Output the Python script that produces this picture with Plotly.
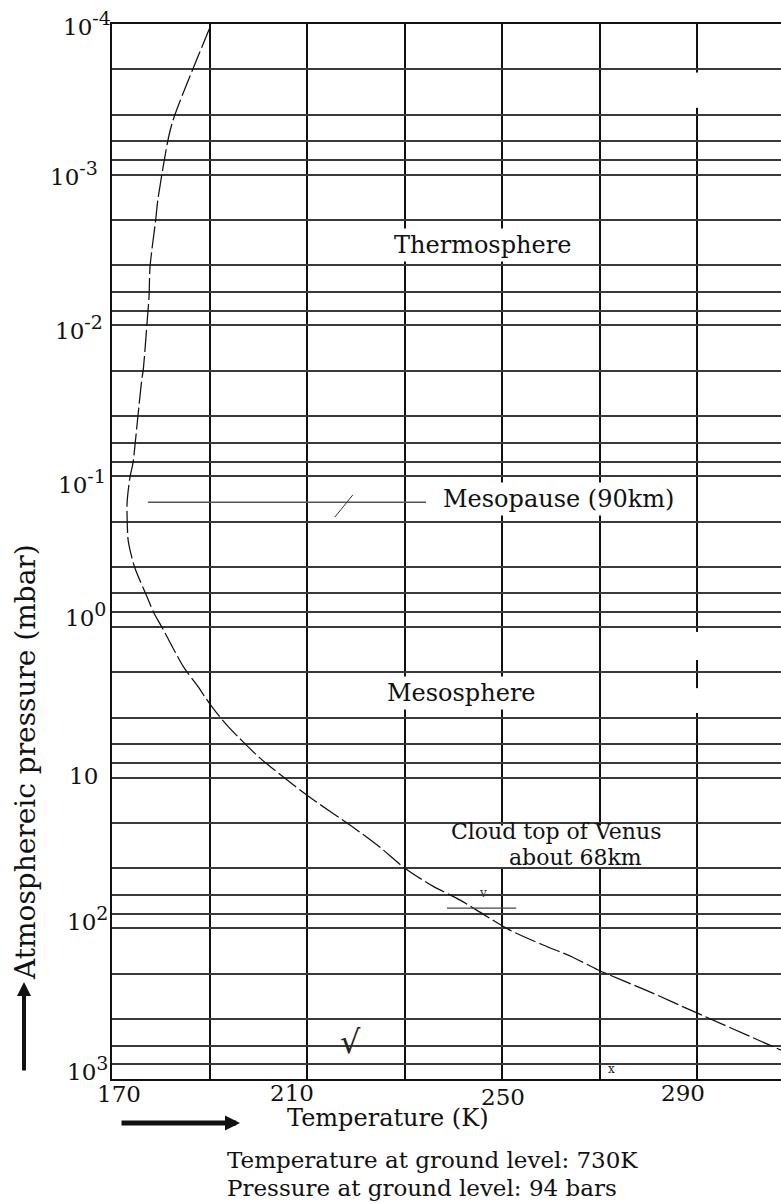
import plotly.graph_objects as go

# ---------------- data ----------------
temperature_K = [190.1, 182.9, 181.7, 179.4, 179.0, 177.8, 177.6, 177.2, 176.4, 176.1,
                 175.3, 174.7, 174.3, 173.7, 173.1, 173.1, 173.3, 173.7, 174.7, 177.2,
                 178.6, 180.2, 184.7, 187.4, 190.5, 193.6, 196.2, 200.3, 210.0, 220.0,
                 224.9, 230.0, 235.8, 241.4, 246.1, 251.6, 258.4, 264.4, 269.7, 280.4,
                 288.2, 307.2]
pressure_mbar = [1.05e-4, 4.0e-4, 5.45e-4, 1.47e-3, 1.94e-3, 4.1e-3, 6.4e-3, 9.5e-3, 1.98e-2, 2.3e-2,
                 4.05e-2, 6.3e-2, 8.2e-2, 0.101, 0.149, 0.19, 0.265, 0.31, 0.407, 0.634,
                 0.81, 1.0, 1.85, 2.43, 3.4, 4.5, 5.5, 7.4, 13.1, 22.0,
                 28.9, 39.8, 52.5, 65.0, 80.5, 102.8, 129.0, 155.0, 189.0, 265.0,
                 344.0, 643.0]

mesopause_T = [177.4, 234.4]
mesopause_p = [0.149, 0.149]
slash_T = [215.7, 219.4]
slash_p = [0.187, 0.133]
cloudtop_T = [238.7, 252.9]
cloudtop_p = [73.5, 73.5]

x_grid = [170, 190, 210, 230, 250, 270, 290]
x_tick_labels = ["170", "210", "250", "290"]
y_grid = [m * 10.0 ** e for e in range(-4, 3) for m in (1, 2, 4, 6, 8)] + [1000.0]
y_tick_base = ["10", "10", "10", "10", "10", "10", "10", "10"]
y_tick_exp = ["-4", "-3", "-2", "-1", "0", "", "2", "3"]

# ---------------- layout helpers ----------------
W, H = 781, 1203
L, R, T, B = 112, 0, 24, 124
PW, PH = W - L - R, H - T - B
FONT = "DejaVu Serif"


def px(xp):
    return (xp - L) / PW


def py(yp):
    return (H - B - yp) / PH


fig = go.Figure()

fig.add_trace(go.Scatter(x=temperature_K, y=pressure_mbar, mode="lines",
                         line=dict(color="#111", width=1.25, dash="22px,4px",
                                   shape="spline", smoothing=0.8),
                         hoverinfo="skip", showlegend=False))
fig.add_trace(go.Scatter(x=mesopause_T, y=mesopause_p, mode="lines",
                         line=dict(color="#555", width=1.5),
                         hoverinfo="skip", showlegend=False))
fig.add_trace(go.Scatter(x=slash_T, y=slash_p, mode="lines",
                         line=dict(color="#333", width=1),
                         hoverinfo="skip", showlegend=False))
fig.add_trace(go.Scatter(x=cloudtop_T, y=cloudtop_p, mode="lines",
                         line=dict(color="#444", width=1.3),
                         hoverinfo="skip", showlegend=False))

annotations = []

# y tick labels (10 with a superscript exponent)
ylab_pos = [(113, 23.5), (100, 173), (105, 327.5), (108, 481), (108, 614),
            (100, 776), (110, 918.5), (110, 1068.5)]
for base, ex, (xr, yc) in zip(y_tick_base, y_tick_exp, ylab_pos):
    txt = base if ex == "" else f"{base}<sup><span style='font-size:19px'>{ex}</span></sup>"
    annotations.append(dict(text=txt, xref="paper", yref="paper", x=px(xr), y=py(yc),
                            xanchor="right", yanchor="middle", showarrow=False,
                            font=dict(family=FONT, size=23, color="#111")))

# x tick labels
xlab_pos = [(119, 1094), (292, 1093), (503, 1097), (683, 1093)]
for txt, (xc, yc) in zip(x_tick_labels, xlab_pos):
    annotations.append(dict(text=txt, xref="paper", yref="paper", x=px(xc), y=py(yc),
                            xanchor="center", yanchor="middle", showarrow=False,
                            font=dict(family=FONT, size=23, color="#111")))

# in-plot labels (white background breaks the grid as in the original)
for txt, xc, yc in [("Thermosphere", 482, 245), ("Mesopause (90km)", 558, 499),
                    ("Mesosphere", 461, 693)]:
    annotations.append(dict(text=txt, xref="paper", yref="paper", x=px(xc), y=py(yc),
                            xanchor="center", yanchor="middle", showarrow=False,
                            bgcolor="white", borderpad=2,
                            font=dict(family=FONT, size=24, color="#111")))
for txt, xc, yc in [("Cloud top of Venus", 556, 831), ("about 68km", 575, 857)]:
    annotations.append(dict(text=txt, xref="paper", yref="paper", x=px(xc), y=py(yc),
                            xanchor="center", yanchor="middle", showarrow=False,
                            font=dict(family=FONT, size=22, color="#111")))

# small marks
annotations.append(dict(text="v", xref="paper", yref="paper", x=px(483), y=py(902),
                        showarrow=False, font=dict(family=FONT, size=12, color="#333")))
annotations.append(dict(text="√", xref="paper", yref="paper", x=px(350), y=py(1063),
                        showarrow=False, font=dict(family=FONT, size=32, color="#222")))
annotations.append(dict(text="x", xref="paper", yref="paper", x=px(617), y=py(1078),
                        showarrow=False, font=dict(family=FONT, size=12, color="#222")))

# axis titles
annotations.append(dict(text="Temperature (K)", xref="paper", yref="paper", x=px(388), y=py(1118),
                        xanchor="center", yanchor="middle", showarrow=False,
                        font=dict(family=FONT, size=24, color="#111")))
annotations.append(dict(text="Atmosphereic pressure (mbar)", xref="paper", yref="paper",
                        x=px(25), y=py(762), textangle=-90, xanchor="center", yanchor="middle",
                        showarrow=False, font=dict(family=FONT, size=28, color="#111")))

# footnotes
annotations.append(dict(text="Temperature at ground level: 730K", xref="paper", yref="paper",
                        x=px(225), y=py(1160), xanchor="left", yanchor="middle", showarrow=False,
                        font=dict(family=FONT, size=23, color="#111")))
annotations.append(dict(text="Pressure at ground level: 94 bars", xref="paper", yref="paper",
                        x=px(225), y=py(1188), xanchor="left", yanchor="middle", showarrow=False,
                        font=dict(family=FONT, size=23, color="#111")))

# arrows
annotations.append(dict(text="", xref="paper", yref="paper", x=px(24), y=py(982),
                        ax=0, ay=90, showarrow=True, arrowhead=2, arrowsize=0.7,
                        arrowwidth=4, arrowcolor="#111"))
annotations.append(dict(text="", xref="paper", yref="paper", x=px(240), y=py(1123),
                        ax=-120, ay=0, showarrow=True, arrowhead=2, arrowsize=0.6,
                        arrowwidth=5, arrowcolor="#111"))

# white patches where the original grid is broken
shapes = [
    dict(type="rect", xref="x", yref="y", x0=236.7, x1=285.5, y0=20.8, y1=39.2,
         fillcolor="white", line=dict(width=0), layer="between"),
    dict(type="rect", xref="x", yref="y", x0=289.2, x1=290.8, y0=2.1e-4, y1=3.6e-4,
         fillcolor="white", line=dict(width=0), layer="between"),
    dict(type="rect", xref="x", yref="y", x0=289.2, x1=290.8, y0=1.08, y1=1.66,
         fillcolor="white", line=dict(width=0), layer="between"),
    dict(type="rect", xref="x", yref="y", x0=289.2, x1=290.8, y0=2.55, y1=3.73,
         fillcolor="white", line=dict(width=0), layer="between"),
]

fig.update_layout(
    width=W, height=H,
    margin=dict(l=L, r=R, t=T, b=B, pad=0),
    paper_bgcolor="white", plot_bgcolor="white",
    showlegend=False,
    xaxis=dict(range=[170, 307.2], tickmode="array", tickvals=x_grid, showticklabels=False,
               ticks="", showgrid=True, gridcolor="#111", gridwidth=1.6, zeroline=False,
               showline=True, linecolor="#111", linewidth=2, mirror=True, fixedrange=True),
    yaxis=dict(type="log", range=[3, -4], tickmode="array", tickvals=y_grid,
               showticklabels=False, ticks="", showgrid=True, gridcolor="#3a3a3a",
               gridwidth=1.6, zeroline=False, showline=True, linecolor="#111", linewidth=2,
               fixedrange=True),
    annotations=annotations,
    shapes=shapes,
)

fig.write_html("out.html")
